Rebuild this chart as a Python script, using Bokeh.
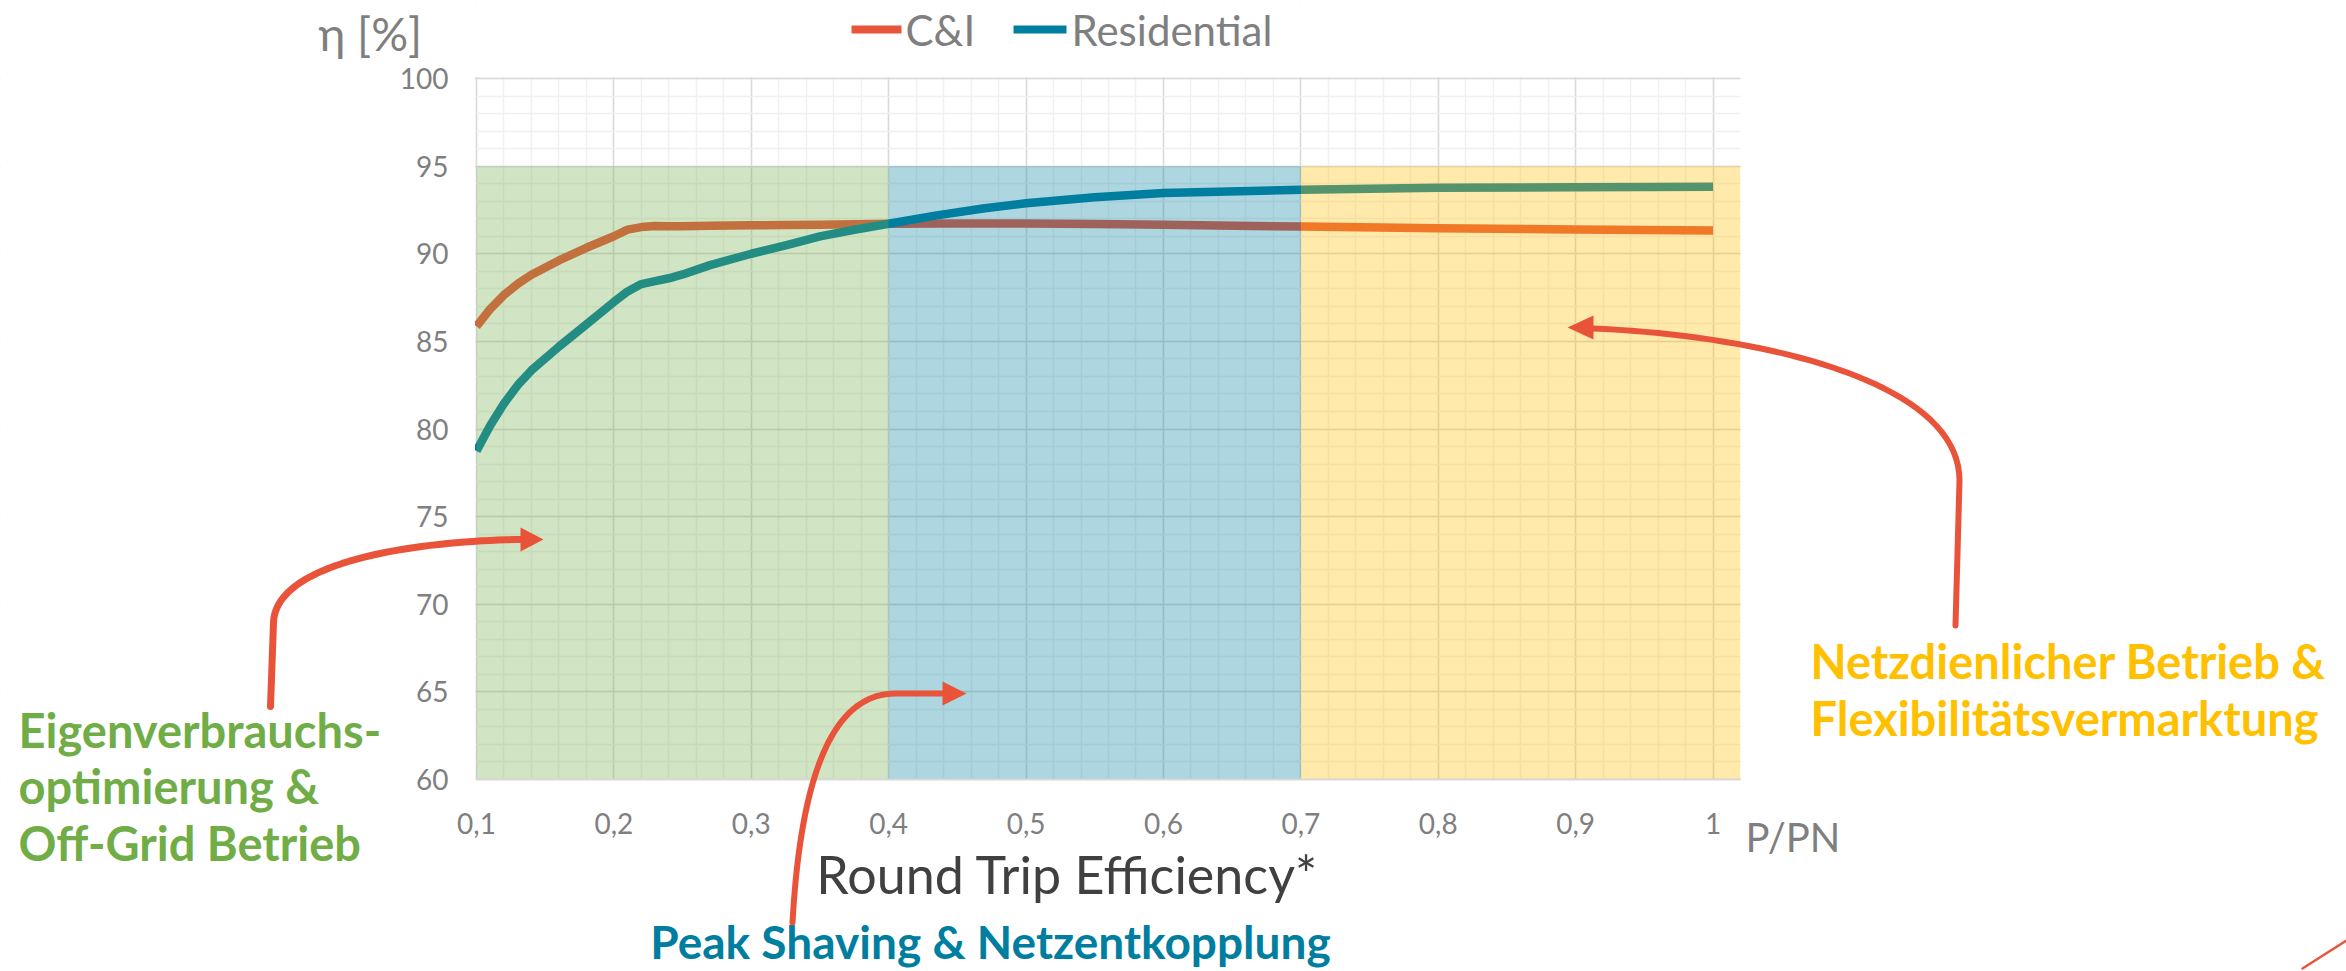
import numpy as np
from bokeh.plotting import figure
from bokeh.models import (Range1d, FixedTicker, CustomJSTickFormatter, Label,
                          PolyAnnotation, ColumnDataSource)
from bokeh.embed import file_html
from bokeh.resources import INLINE

# ---------------- data ----------------
p_pn = [0.10, 0.11, 0.12, 0.13, 0.14, 0.16, 0.18, 0.20, 0.21, 0.22, 0.23, 0.24, 0.25,
        0.27, 0.30, 0.325, 0.35, 0.375, 0.40, 0.435, 0.47, 0.50, 0.55, 0.60, 0.70,
        0.80, 0.90, 1.00]
eta_ci = [85.85, 86.85, 87.65, 88.28, 88.8, 89.62, 90.34, 91.0, 91.38, 91.52, 91.58,
          91.57, 91.57, 91.6, 91.62, 91.64, 91.66, 91.68, 91.71, 91.72, 91.72, 91.72,
          91.7, 91.65, 91.55, 91.46, 91.38, 91.32]
eta_res = [78.75, 80.2, 81.45, 82.5, 83.35, 84.7, 85.97, 87.25, 87.85, 88.27, 88.44,
           88.6, 88.82, 89.35, 90.0, 90.48, 90.99, 91.37, 91.71, 92.19, 92.6, 92.88,
           93.22, 93.46, 93.65, 93.76, 93.8, 93.82]
series_names = ["C&I", "Residential"]

region_left = [0.1, 0.4, 0.7]
region_right = [0.4, 0.7, 1.02]
region_bottom = 60
region_top = 95
region_labels = [["Eigenverbrauchs-", "optimierung &", "Off-Grid Betrieb"],
                 ["Peak Shaving & Netzentkopplung"],
                 ["Netzdienlicher Betrieb &", "Flexibilitätsvermarktung"]]

x_ticks = [0.1, 0.2, 0.3, 0.4, 0.5, 0.6, 0.7, 0.8, 0.9, 1.0]
x_minor = [round(0.1 + 0.02 * k, 2) for k in range(0, 46)]
y_ticks = [60, 65, 70, 75, 80, 85, 90, 95, 100]
y_minor = list(range(60, 101))
X_MIN, X_MAX, Y_MIN, Y_MAX = 0.1, 1.02, 60, 100

# ---------------- styles ----------------
C_CI = "#E9553A"
C_RES = "#007EA0"
C_GREEN = "#70AD47"
C_YELLOW = "#FFC000"
C_GRAY = "#7F7F7F"
ARROW = "#E9533A"
FONT = "Lato"

W, H = 2346, 971
# chart area in canvas pixels
CL, CR, CT, CB = 476, 1740, 78, 779
sx = (X_MAX - X_MIN) / (CR - CL)
sy = (Y_MAX - Y_MIN) / (CB - CT)
x_lo, x_hi = X_MIN - CL * sx, X_MAX + (W - CR) * sx
y_lo, y_hi = Y_MIN - (H - CB) * sy, Y_MAX + CT * sy

p = figure(width=W, height=H, output_backend="svg", toolbar_location=None,
           x_range=Range1d(x_lo, x_hi), y_range=Range1d(y_lo, y_hi), min_border=0)
p.outline_line_color = None
p.background_fill_color = "white"
p.border_fill_color = "white"

p.xaxis.fixed_location = Y_MIN
p.yaxis.fixed_location = X_MIN
p.xaxis.bounds = (X_MIN, X_MAX)
p.yaxis.bounds = (Y_MIN, Y_MAX)
p.xaxis.ticker = FixedTicker(ticks=x_ticks, minor_ticks=x_minor)
p.yaxis.ticker = FixedTicker(ticks=y_ticks, minor_ticks=y_minor)
p.xaxis.formatter = CustomJSTickFormatter(
    code="return Math.abs(tick-1)<1e-9 ? '1' : tick.toFixed(1).replace('.', ',');")

for ax in (p.xaxis, p.yaxis):
    ax.major_tick_line_color = None
    ax.minor_tick_line_color = None
    ax.major_label_text_font = FONT
    ax.major_label_text_font_size = "28px"
    ax.major_label_text_color = C_GRAY
p.xaxis.major_label_standoff = 27
p.yaxis.major_label_standoff = 22
p.yaxis.axis_line_color = None
p.xaxis.axis_line_color = "#D9D9D9"
p.xaxis.axis_line_width = 2

for g in (p.xgrid, p.ygrid):
    g.grid_line_color = "#D9D9D9"
    g.grid_line_width = 1.5
    g.minor_grid_line_color = "#F0F0F0"
    g.minor_grid_line_width = 1.5

src = ColumnDataSource(dict(x=p_pn, ci=eta_ci, res=eta_res))
p.line("x", "ci", source=src, line_color=C_CI, line_width=8.5, line_join="round")
p.line("x", "res", source=src, line_color=C_RES, line_width=8.5, line_join="round")

p.quad(left=region_left, right=region_right, bottom=region_bottom, top=region_top,
       fill_color=[C_GREEN, C_RES, C_YELLOW], fill_alpha=[0.32, 0.32, 0.33],
       line_color=None)

# white masks: keep the grid inside the chart area only
px1x, px1y = 1.5 * sx, 1.5 * sy
p.quad(left=[x_lo, X_MAX, X_MIN - px1x, X_MIN - px1x],
       right=[X_MIN - px1x, x_hi, X_MAX, X_MAX],
       bottom=[y_lo, y_lo, Y_MAX + px1y, y_lo],
       top=[y_hi, y_hi, y_hi, Y_MIN],
       fill_color="white", line_color=None)


def label(text, X, Y, size, color, bold=False, align="left"):
    # Y: wanted baseline (canvas px, from top)
    p.add_layout(Label(x=X, y=Y - 0.38 * size, x_units="canvas", y_units="canvas",
                       text=text, text_font=FONT,
                       text_font_size=f"{size}px", text_color=color,
                       text_font_style="bold" if bold else "normal",
                       text_align=align, text_baseline="alphabetic"))


def poly(xs, ys, **kw):
    p.add_layout(PolyAnnotation(xs=list(xs), ys=list(ys),
                                xs_units="canvas", ys_units="canvas", **kw))


# axis titles
label("η [%]", 318, 50, 46, C_GRAY)
label("P/PN", 1745, 852, 40, C_GRAY)
label("Round Trip Efficiency*", 1067, 893, 52, "#404040", align="center")

# legend
for name, col, x0, x1, tx in [(series_names[0], C_CI, 851, 901, 905),
                              (series_names[1], C_RES, 1013, 1066, 1071)]:
    poly([x0, x1, x1, x0], [25, 25, 33, 33], fill_color=col, fill_alpha=1, line_color=None)
    label(name, tx, 45, 42, C_GRAY)

# region texts
for i, t in enumerate(region_labels[0]):
    label(t, 18, 747 + i * 56.5, 47, C_GREEN, bold=True)
label(region_labels[1][0], 990, 958, 46, C_RES, bold=True, align="center")
for i, t in enumerate(region_labels[2]):
    label(t, 1810, 678 + i * 57, 47, C_YELLOW, bold=True)


# arrows
def bez(P, n=40):
    t = np.linspace(0, 1, n)[:, None]
    P = np.array(P, dtype=float)
    return ((1 - t) ** 3) * P[0] + 3 * ((1 - t) ** 2) * t * P[1] + 3 * (1 - t) * t * t * P[2] + t ** 3 * P[3]


def curve(points, width):
    pts = np.array(points, dtype=float)
    xs = list(pts[:, 0])
    ys = list(pts[:, 1])
    poly(xs + xs[::-1], ys + ys[::-1], fill_alpha=0, line_color=ARROW, line_alpha=1,
         line_width=width, line_join="round")


def head(tip, b1, b2):
    poly([tip[0], b1[0], b2[0]], [tip[1], b1[1], b2[1]],
         fill_color=ARROW, fill_alpha=1, line_color=None)


# left arrow
pts = [(270, 706), (273, 622)] + [tuple(r) for r in bez([(273, 622), (275, 560), (420, 540), (522, 539)])]
curve(pts, 7)
head((543, 539), (520, 527), (520, 551))

# bottom arrow
pts = [tuple(r) for r in bez([(792, 922), (800, 780), (830, 693), (895, 693)])] + [(943, 693)]
curve(pts, 6)
head((966, 693), (942, 681), (942, 705))

# right arrow
pts = [(1955, 625), (1959, 480)] + [tuple(r) for r in bez([(1959, 480), (1959, 380), (1760, 335), (1592, 328)])]
curve(pts, 6)
head((1567, 327), (1593, 315), (1593, 339))

# corner decoration
curve([(2302, 968), (2346, 940)], 2.5)

open("out.html", "w").write(file_html(p, INLINE))
